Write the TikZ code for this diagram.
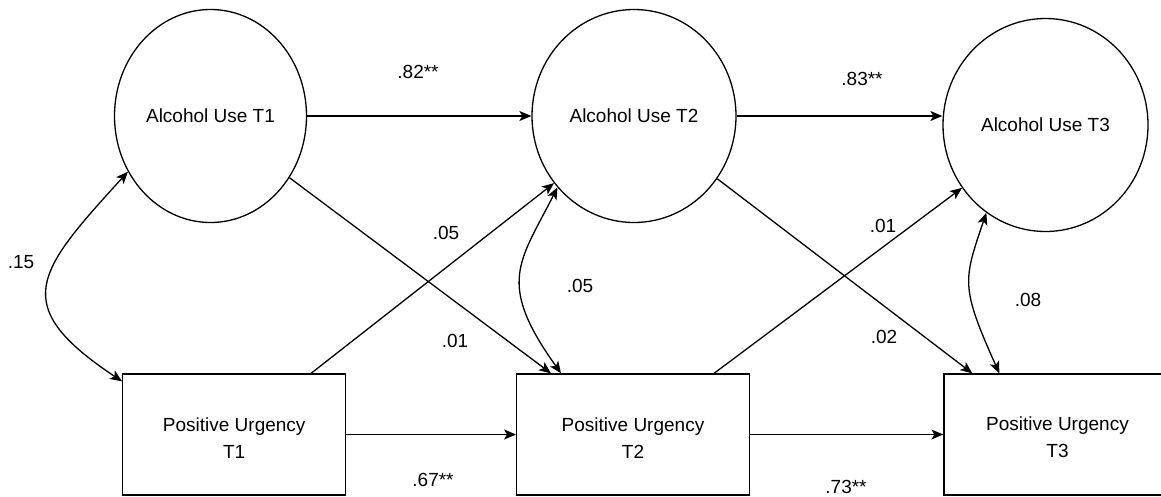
\documentclass[tikz,border=0pt]{standalone}
\usepackage{fontspec}
\setmainfont{Liberation Sans}
\usetikzlibrary{shapes.geometric,arrows.meta}

\begin{document}
\begin{tikzpicture}[x=1pt,y=-1pt,
  font=\fontsize{19}{27}\selectfont,
  every node/.style={inner sep=0pt},
  latent/.style={ellipse,draw,line width=1.3pt,minimum height=213pt},
  observed/.style={rectangle,draw,line width=1.3pt,minimum height=121pt,align=center,text height=47pt},
  tip/.tip={Stealth[length=12pt,width=10pt,inset=3pt]},
  regpath/.style={line width=1.3pt,-tip},
  covpath/.style={line width=1.3pt,tip-tip}
]
\useasboundingbox (0,0) rectangle (1161,496);
\clip (0,0) rectangle (1161,496);

% latent variables
\node[latent,minimum width=192pt] (au1) at (210.5,116) {Alcohol Use T1};
\node[latent,minimum width=204pt] (au2) at (634,116) {Alcohol Use T2};
\node[latent,minimum width=205pt] (au3) at (1045.5,125) {Alcohol Use T3};

% observed variables
\node[observed,minimum width=223pt] (pu1) at (234.2,434.5) {Positive Urgency\\T1};
\node[observed,minimum width=232.6pt] (pu2) at (633,434.5) {Positive Urgency\\T2};
\node[observed,minimum width=227pt] (pu3) at (1057.5,434.5) {Positive Urgency\\T3};

% autoregressive paths
\draw[regpath] (au1.east) -- (au2.west);
\draw[regpath] (au2.east) -- (au2.east -| au3.west);
\draw[regpath] (pu1.east) -- (pu2.west);
\draw[regpath] (pu2.east) -- (pu3.west);

% cross-lagged paths
\draw[regpath] (au1.-38) -- ([xshift=35pt]pu2.north west);
\draw[regpath] ([xshift=189pt]pu1.north west) -- (au2.-140);
\draw[regpath] (au2.-37) -- ([xshift=29pt]pu3.north west);
\draw[regpath] ([xshift=198pt]pu2.north west) -- (au3.-143);

% within-wave covariances
\draw[covpath] (au1.-146) .. controls +(-92,101) and +(-114,-76) .. ([yshift=-8pt]pu1.north west);
\draw[covpath] (au2.-137) .. controls +(-38,75) and +(-65,-91) .. ([xshift=45pt]pu2.north west);
\draw[covpath] (au3.-124) .. controls +(-23,68) and +(-39,-87) .. ([xshift=56pt]pu3.north west);

% coefficients
\node (k82) at (418,72) {.82**};
\node (k83) at (862,79) {.83**};
\node (k05a) at (446,233) {.05};
\node (k05b) at (580,286) {.05};
\node (k01a) at (455,341) {.01};
\node (k67) at (433,480) {.67**};
\node (k01b) at (883,226) {.01};
\node (k02) at (884,337) {.02};
\node (k08) at (1028,300) {.08};
\node (k73) at (846,487) {.73**};
\node (k15) at (21,262) {.15};
\end{tikzpicture}
\end{document}
